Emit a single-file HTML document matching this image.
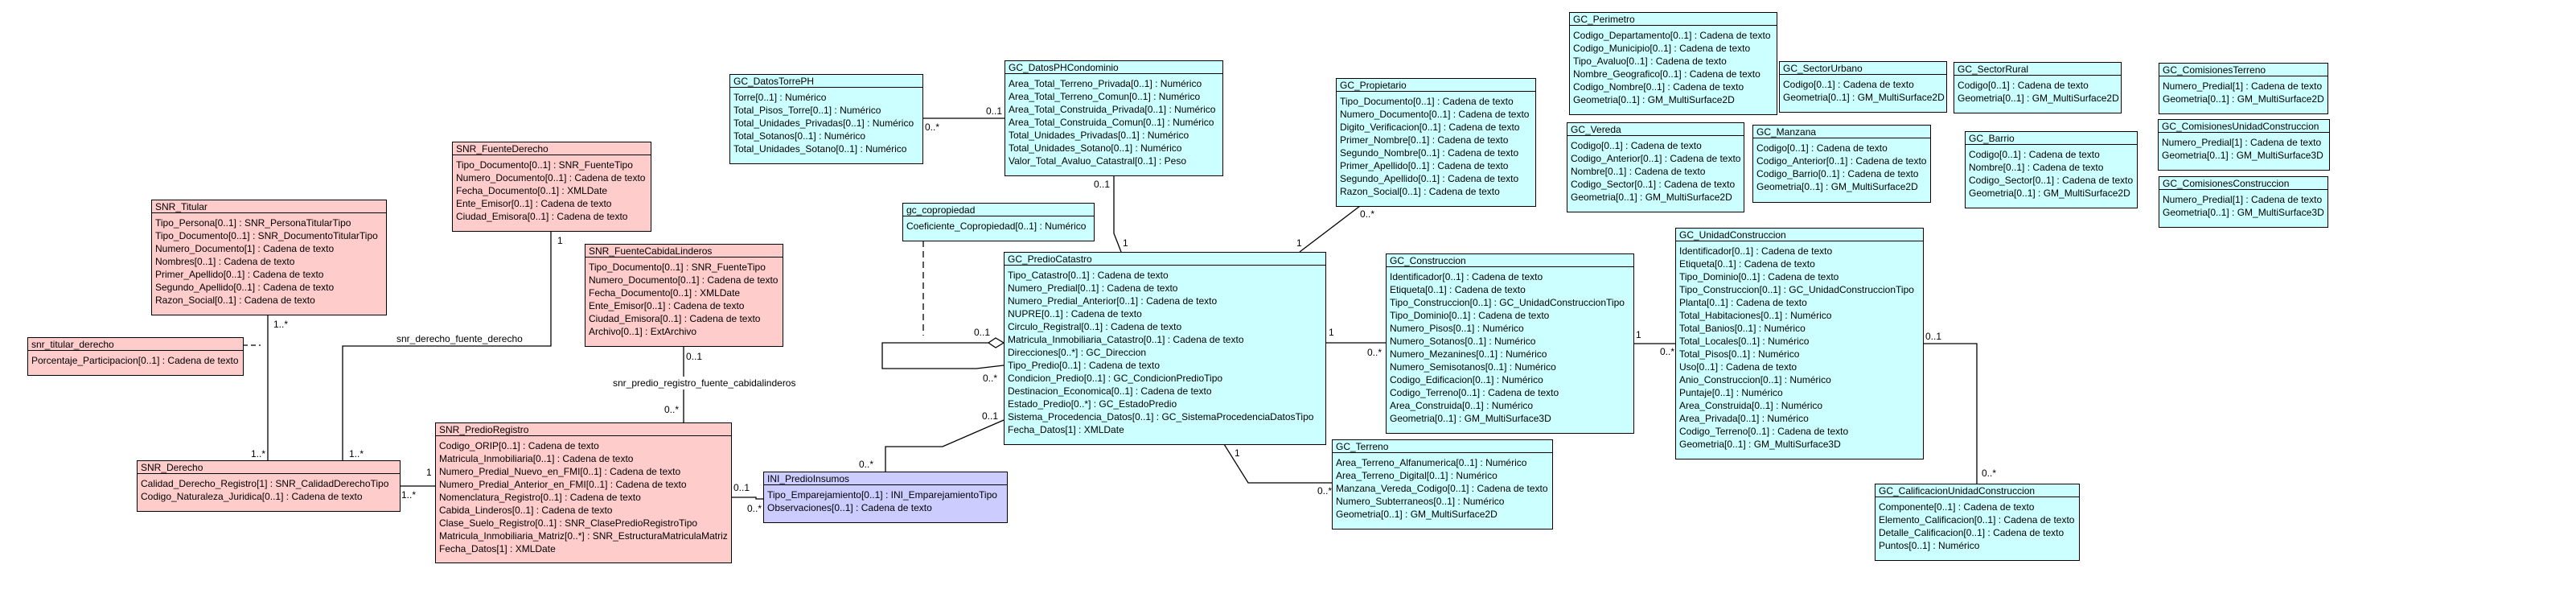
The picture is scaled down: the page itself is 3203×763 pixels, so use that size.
<!DOCTYPE html>
<html><head><meta charset="utf-8"><style>
body{margin:0;width:3203px;height:763px;background:#fff;position:relative;overflow:hidden;font-family:"Liberation Sans",Arial,sans-serif;font-size:12px;color:#000}
.b{position:absolute;border:1px solid #000;box-sizing:border-box;white-space:nowrap;overflow:visible}
.p{background:#FFCCCC}.c{background:#CCFFFF}.v{background:#CCCCFF}
.h{height:15px;line-height:16px;border-bottom:1px solid #000;padding-left:4px}
.a{padding:4px 0 0 4px;line-height:16px}
.l{position:absolute;white-space:nowrap;line-height:12px;font-size:12px}
svg{position:absolute;left:0;top:0}
</style></head><body>
<svg width="3203" height="763" fill="none" stroke="#000" stroke-width="1.3">
<polyline points="333,391 333,572"/>
<polyline points="302,429 324,429" stroke-dasharray="6,4"/>
<polyline points="426,572 426,430 685,430 685,287"/>
<polyline points="497,604 541,604"/>
<polyline points="850,430 850,525"/>
<polyline points="909,618 940,618 940,620 949,620"/>
<polyline points="1147,147 1249,147"/>
<polyline points="1385,218 1385,290 1394,313"/>
<polyline points="1148,299 1148,417" stroke-dasharray="8,5"/>
<polyline points="1229,426 1097,426 1097,458 1214,458 1248,454"/>
<polygon points="1229,426 1238,420 1248,426 1238,432" fill="#fff"/>
<polyline points="1248,522 1172,555 1101,555 1101,586"/>
<polyline points="1522,552 1552,600 1656,600"/>
<polyline points="1616,313 1691,256"/>
<polyline points="1648,426 1723,426"/>
<polyline points="2031,427 2083,427"/>
<polyline points="2391,427 2458,427 2458,601"/>
</svg>

<div class="l" style="left:340px;top:397px">1..*</div>
<div class="l" style="left:312px;top:558px">1..*</div>
<div class="l" style="left:434px;top:558px">1..*</div>
<div class="l" style="left:530px;top:581px">1</div>
<div class="l" style="left:499px;top:609px">1..*</div>
<div class="l" style="left:493px;top:415px">snr_derecho_fuente_derecho</div>
<div class="l" style="left:693px;top:293px">1</div>
<div class="l" style="left:853px;top:437px">0..1</div>
<div class="l" style="left:762px;top:468px;background:#fff;padding:2px 0">snr_predio_registro_fuente_cabidalinderos</div>
<div class="l" style="left:826px;top:503px">0..*</div>
<div class="l" style="left:912px;top:600px">0..1</div>
<div class="l" style="left:929px;top:626px">0..*</div>
<div class="l" style="left:1226px;top:132px">0..1</div>
<div class="l" style="left:1150px;top:152px">0..*</div>
<div class="l" style="left:1360px;top:223px">0..1</div>
<div class="l" style="left:1396px;top:296px">1</div>
<div class="l" style="left:1612px;top:296px">1</div>
<div class="l" style="left:1211px;top:407px">0..1</div>
<div class="l" style="left:1222px;top:464px">0..*</div>
<div class="l" style="left:1221px;top:511px">0..1</div>
<div class="l" style="left:1068px;top:571px">0..*</div>
<div class="l" style="left:1535px;top:557px">1</div>
<div class="l" style="left:1638px;top:604px">0..*</div>
<div class="l" style="left:1691px;top:260px">0..*</div>
<div class="l" style="left:1652px;top:407px">1</div>
<div class="l" style="left:1700px;top:432px">0..*</div>
<div class="l" style="left:2034px;top:410px">1</div>
<div class="l" style="left:2064px;top:431px">0..*</div>
<div class="l" style="left:2394px;top:412px">0..1</div>
<div class="l" style="left:2464px;top:582px">0..*</div>

<div class="b p" style="left:188px;top:248px;width:293px;height:144px"><div class="h">SNR_Titular</div><div class="a">Tipo_Persona[0..1] : SNR_PersonaTitularTipo<br>Tipo_Documento[0..1] : SNR_DocumentoTitularTipo<br>Numero_Documento[1] : Cadena de texto<br>Nombres[0..1] : Cadena de texto<br>Primer_Apellido[0..1] : Cadena de texto<br>Segundo_Apellido[0..1] : Cadena de texto<br>Razon_Social[0..1] : Cadena de texto</div></div>
<div class="b p" style="left:34px;top:419px;width:269px;height:48px"><div class="h">snr_titular_derecho</div><div class="a">Porcentaje_Participacion[0..1] : Cadena de texto</div></div>
<div class="b p" style="left:170px;top:572px;width:328px;height:64px"><div class="h">SNR_Derecho</div><div class="a">Calidad_Derecho_Registro[1] : SNR_CalidadDerechoTipo<br>Codigo_Naturaleza_Juridica[0..1] : Cadena de texto</div></div>
<div class="b p" style="left:562px;top:176px;width:248px;height:112px"><div class="h">SNR_FuenteDerecho</div><div class="a">Tipo_Documento[0..1] : SNR_FuenteTipo<br>Numero_Documento[0..1] : Cadena de texto<br>Fecha_Documento[0..1] : XMLDate<br>Ente_Emisor[0..1] : Cadena de texto<br>Ciudad_Emisora[0..1] : Cadena de texto</div></div>
<div class="b p" style="left:727px;top:303px;width:247px;height:128px"><div class="h">SNR_FuenteCabidaLinderos</div><div class="a">Tipo_Documento[0..1] : SNR_FuenteTipo<br>Numero_Documento[0..1] : Cadena de texto<br>Fecha_Documento[0..1] : XMLDate<br>Ente_Emisor[0..1] : Cadena de texto<br>Ciudad_Emisora[0..1] : Cadena de texto<br>Archivo[0..1] : ExtArchivo</div></div>
<div class="b p" style="left:541px;top:525px;width:369px;height:175px"><div class="h">SNR_PredioRegistro</div><div class="a">Codigo_ORIP[0..1] : Cadena de texto<br>Matricula_Inmobiliaria[0..1] : Cadena de texto<br>Numero_Predial_Nuevo_en_FMI[0..1] : Cadena de texto<br>Numero_Predial_Anterior_en_FMI[0..1] : Cadena de texto<br>Nomenclatura_Registro[0..1] : Cadena de texto<br>Cabida_Linderos[0..1] : Cadena de texto<br>Clase_Suelo_Registro[0..1] : SNR_ClasePredioRegistroTipo<br>Matricula_Inmobiliaria_Matriz[0..*] : SNR_EstructuraMatriculaMatriz<br>Fecha_Datos[1] : XMLDate</div></div>
<div class="b v" style="left:949px;top:586px;width:304px;height:64px"><div class="h">INI_PredioInsumos</div><div class="a">Tipo_Emparejamiento[0..1] : INI_EmparejamientoTipo<br>Observaciones[0..1] : Cadena de texto</div></div>
<div class="b c" style="left:907px;top:92px;width:241px;height:112px"><div class="h">GC_DatosTorrePH</div><div class="a">Torre[0..1] : Numérico<br>Total_Pisos_Torre[0..1] : Numérico<br>Total_Unidades_Privadas[0..1] : Numérico<br>Total_Sotanos[0..1] : Numérico<br>Total_Unidades_Sotano[0..1] : Numérico</div></div>
<div class="b c" style="left:1249px;top:75px;width:272px;height:144px"><div class="h">GC_DatosPHCondominio</div><div class="a">Area_Total_Terreno_Privada[0..1] : Numérico<br>Area_Total_Terreno_Comun[0..1] : Numérico<br>Area_Total_Construida_Privada[0..1] : Numérico<br>Area_Total_Construida_Comun[0..1] : Numérico<br>Total_Unidades_Privadas[0..1] : Numérico<br>Total_Unidades_Sotano[0..1] : Numérico<br>Valor_Total_Avaluo_Catastral[0..1] : Peso</div></div>
<div class="b c" style="left:1122px;top:252px;width:239px;height:48px"><div class="h">gc_copropiedad</div><div class="a">Coeficiente_Copropiedad[0..1] : Numérico</div></div>
<div class="b c" style="left:1248px;top:313px;width:401px;height:240px"><div class="h">GC_PredioCatastro</div><div class="a">Tipo_Catastro[0..1] : Cadena de texto<br>Numero_Predial[0..1] : Cadena de texto<br>Numero_Predial_Anterior[0..1] : Cadena de texto<br>NUPRE[0..1] : Cadena de texto<br>Circulo_Registral[0..1] : Cadena de texto<br>Matricula_Inmobiliaria_Catastro[0..1] : Cadena de texto<br>Direcciones[0..*] : GC_Direccion<br>Tipo_Predio[0..1] : Cadena de texto<br>Condicion_Predio[0..1] : GC_CondicionPredioTipo<br>Destinacion_Economica[0..1] : Cadena de texto<br>Estado_Predio[0..*] : GC_EstadoPredio<br>Sistema_Procedencia_Datos[0..1] : GC_SistemaProcedenciaDatosTipo<br>Fecha_Datos[1] : XMLDate</div></div>
<div class="b c" style="left:1661px;top:97px;width:249px;height:160px"><div class="h">GC_Propietario</div><div class="a">Tipo_Documento[0..1] : Cadena de texto<br>Numero_Documento[0..1] : Cadena de texto<br>Digito_Verificacion[0..1] : Cadena de texto<br>Primer_Nombre[0..1] : Cadena de texto<br>Segundo_Nombre[0..1] : Cadena de texto<br>Primer_Apellido[0..1] : Cadena de texto<br>Segundo_Apellido[0..1] : Cadena de texto<br>Razon_Social[0..1] : Cadena de texto</div></div>
<div class="b c" style="left:1951px;top:15px;width:259px;height:128px"><div class="h">GC_Perimetro</div><div class="a">Codigo_Departamento[0..1] : Cadena de texto<br>Codigo_Municipio[0..1] : Cadena de texto<br>Tipo_Avaluo[0..1] : Cadena de texto<br>Nombre_Geografico[0..1] : Cadena de texto<br>Codigo_Nombre[0..1] : Cadena de texto<br>Geometria[0..1] : GM_MultiSurface2D</div></div>
<div class="b c" style="left:1948px;top:152px;width:221px;height:112px"><div class="h">GC_Vereda</div><div class="a">Codigo[0..1] : Cadena de texto<br>Codigo_Anterior[0..1] : Cadena de texto<br>Nombre[0..1] : Cadena de texto<br>Codigo_Sector[0..1] : Cadena de texto<br>Geometria[0..1] : GM_MultiSurface2D</div></div>
<div class="b c" style="left:2212px;top:76px;width:209px;height:64px"><div class="h">GC_SectorUrbano</div><div class="a">Codigo[0..1] : Cadena de texto<br>Geometria[0..1] : GM_MultiSurface2D</div></div>
<div class="b c" style="left:2429px;top:77px;width:209px;height:64px"><div class="h">GC_SectorRural</div><div class="a">Codigo[0..1] : Cadena de texto<br>Geometria[0..1] : GM_MultiSurface2D</div></div>
<div class="b c" style="left:2179px;top:155px;width:222px;height:97px"><div class="h">GC_Manzana</div><div class="a">Codigo[0..1] : Cadena de texto<br>Codigo_Anterior[0..1] : Cadena de texto<br>Codigo_Barrio[0..1] : Cadena de texto<br>Geometria[0..1] : GM_MultiSurface2D</div></div>
<div class="b c" style="left:2443px;top:163px;width:215px;height:96px"><div class="h">GC_Barrio</div><div class="a">Codigo[0..1] : Cadena de texto<br>Nombre[0..1] : Cadena de texto<br>Codigo_Sector[0..1] : Cadena de texto<br>Geometria[0..1] : GM_MultiSurface2D</div></div>
<div class="b c" style="left:2083px;top:283px;width:309px;height:288px"><div class="h">GC_UnidadConstruccion</div><div class="a">Identificador[0..1] : Cadena de texto<br>Etiqueta[0..1] : Cadena de texto<br>Tipo_Dominio[0..1] : Cadena de texto<br>Tipo_Construccion[0..1] : GC_UnidadConstruccionTipo<br>Planta[0..1] : Cadena de texto<br>Total_Habitaciones[0..1] : Numérico<br>Total_Banios[0..1] : Numérico<br>Total_Locales[0..1] : Numérico<br>Total_Pisos[0..1] : Numérico<br>Uso[0..1] : Cadena de texto<br>Anio_Construccion[0..1] : Numérico<br>Puntaje[0..1] : Numérico<br>Area_Construida[0..1] : Numérico<br>Area_Privada[0..1] : Numérico<br>Codigo_Terreno[0..1] : Cadena de texto<br>Geometria[0..1] : GM_MultiSurface3D</div></div>
<div class="b c" style="left:1723px;top:315px;width:309px;height:224px"><div class="h">GC_Construccion</div><div class="a">Identificador[0..1] : Cadena de texto<br>Etiqueta[0..1] : Cadena de texto<br>Tipo_Construccion[0..1] : GC_UnidadConstruccionTipo<br>Tipo_Dominio[0..1] : Cadena de texto<br>Numero_Pisos[0..1] : Numérico<br>Numero_Sotanos[0..1] : Numérico<br>Numero_Mezanines[0..1] : Numérico<br>Numero_Semisotanos[0..1] : Numérico<br>Codigo_Edificacion[0..1] : Numérico<br>Codigo_Terreno[0..1] : Cadena de texto<br>Area_Construida[0..1] : Numérico<br>Geometria[0..1] : GM_MultiSurface3D</div></div>
<div class="b c" style="left:1656px;top:546px;width:275px;height:112px"><div class="h">GC_Terreno</div><div class="a">Area_Terreno_Alfanumerica[0..1] : Numérico<br>Area_Terreno_Digital[0..1] : Numérico<br>Manzana_Vereda_Codigo[0..1] : Cadena de texto<br>Numero_Subterraneos[0..1] : Numérico<br>Geometria[0..1] : GM_MultiSurface2D</div></div>
<div class="b c" style="left:2331px;top:601px;width:255px;height:96px"><div class="h">GC_CalificacionUnidadConstruccion</div><div class="a">Componente[0..1] : Cadena de texto<br>Elemento_Calificacion[0..1] : Cadena de texto<br>Detalle_Calificacion[0..1] : Cadena de texto<br>Puntos[0..1] : Numérico</div></div>
<div class="b c" style="left:2684px;top:78px;width:211px;height:64px"><div class="h">GC_ComisionesTerreno</div><div class="a">Numero_Predial[1] : Cadena de texto<br>Geometria[0..1] : GM_MultiSurface2D</div></div>
<div class="b c" style="left:2683px;top:148px;width:214px;height:64px"><div class="h">GC_ComisionesUnidadConstruccion</div><div class="a">Numero_Predial[1] : Cadena de texto<br>Geometria[0..1] : GM_MultiSurface3D</div></div>
<div class="b c" style="left:2684px;top:219px;width:211px;height:64px"><div class="h">GC_ComisionesConstruccion</div><div class="a">Numero_Predial[1] : Cadena de texto<br>Geometria[0..1] : GM_MultiSurface3D</div></div>
</body></html>
